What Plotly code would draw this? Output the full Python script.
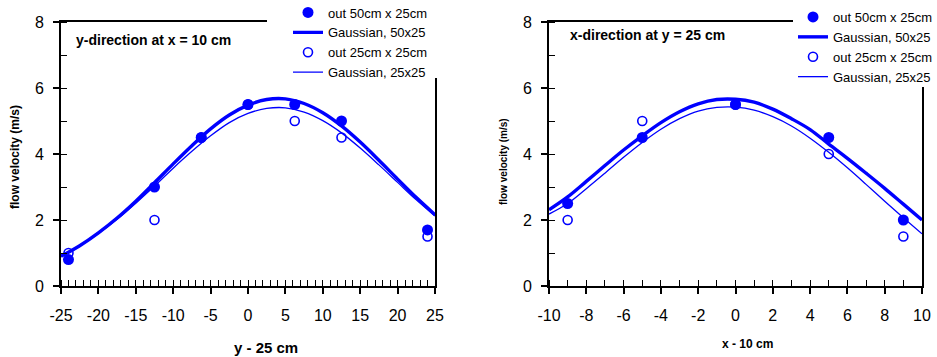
import plotly.graph_objects as go

# ---------------- data ----------------
# left panel: y-direction at x = 10 cm
left_pts_x = [-24, -12.5, -6.25, 0, 6.25, 12.5, 24]
left_out50 = [0.8, 3.0, 4.5, 5.5, 5.5, 5.0, 1.7]
left_out25 = [1.0, 2.0, 4.5, 5.5, 5.0, 4.5, 1.5]

left_curve_x = [-25, -22.5, -20, -17.5, -15, -12.5, -10, -7.5, -5, -2.5, 0,
                2.5, 5, 7.5, 10, 12.5, 15, 17.5, 20, 22.5, 25]
left_gauss50 = [0.90, 1.22, 1.61, 2.06, 2.57, 3.13, 3.70, 4.25, 4.76, 5.18, 5.48,
                5.65, 5.67, 5.53, 5.25, 4.85, 4.36, 3.81, 3.24, 2.68, 2.16]
left_gauss25 = [0.90, 1.21, 1.59, 2.02, 2.51, 3.03, 3.57, 4.08, 4.55, 4.95, 5.23,
                5.38, 5.40, 5.27, 5.01, 4.64, 4.18, 3.67, 3.14, 2.61, 2.12]

# right panel: x-direction at y = 25 cm
right_pts_x = [-9, -5, 0, 5, 9]
right_out50 = [2.5, 4.5, 5.5, 4.5, 2.0]
right_out25 = [2.0, 5.0, 5.5, 4.0, 1.5]

right_curve_x = [-10, -9, -8, -7, -6, -5, -4, -3, -2, -1, 0,
                 1, 2, 3, 4, 5, 6, 7, 8, 9, 10]
right_gauss50 = [2.31, 2.70, 3.17, 3.65, 4.12, 4.55, 4.95, 5.28, 5.52, 5.65, 5.66,
                 5.57, 5.36, 5.07, 4.74, 4.30, 3.87, 3.42, 2.96, 2.48, 2.00]
right_gauss25 = [2.18, 2.50, 2.95, 3.42, 3.90, 4.35, 4.75, 5.07, 5.30, 5.41, 5.42,
                 5.33, 5.13, 4.85, 4.48, 4.05, 3.58, 3.08, 2.57, 2.07, 1.58]

left_xticks = [-25, -20, -15, -10, -5, 0, 5, 10, 15, 20, 25]
left_xlabels = ["-25", "-20", "-15", "-10", "-5", "0", "5", "10", "15", "20", "25"]
right_xticks = [-10, -8, -6, -4, -2, 0, 2, 4, 6, 8, 10]
right_xlabels = ["-10", "-8", "-6", "-4", "-2", "0", "2", "4", "6", "8", "10"]
yticks = [0, 2, 4, 6, 8]
ylabels = ["0", "2", "4", "6", "8"]

names = ["out 50cm x 25cm", "Gaussian, 50x25", "out 25cm x 25cm", "Gaussian, 25x25"]
left_title = "y-direction at x = 10 cm"
right_title = "x-direction at y = 25 cm"
ytitle = "flow velocity (m/s)"
left_xtitle = "y - 25 cm"
right_xtitle = "x - 10 cm"

BLUE = "#0000FF"
FONT = "Arial, Liberation Sans, sans-serif"

fig = go.Figure()


def add_panel(xa, ya, legend, px, out50, out25, cx, g50, g25):
    fig.add_trace(go.Scatter(x=cx, y=g25, mode="lines", name=names[3],
                             line=dict(color=BLUE, width=1.3, shape="spline"),
                             xaxis=xa, yaxis=ya, legend=legend, legendrank=4))
    fig.add_trace(go.Scatter(x=cx, y=g50, mode="lines", name=names[1],
                             line=dict(color=BLUE, width=3.4, shape="spline"),
                             xaxis=xa, yaxis=ya, legend=legend, legendrank=2))
    fig.add_trace(go.Scatter(x=px, y=out25, mode="markers", name=names[2],
                             marker=dict(symbol="circle-open", size=9, color=BLUE,
                                         line=dict(width=1.6, color=BLUE)),
                             xaxis=xa, yaxis=ya, legend=legend, legendrank=3))
    fig.add_trace(go.Scatter(x=px, y=out50, mode="markers", name=names[0],
                             marker=dict(symbol="circle", size=11, color=BLUE),
                             xaxis=xa, yaxis=ya, legend=legend, legendrank=1))


add_panel("x", "y", "legend", left_pts_x, left_out50, left_out25,
          left_curve_x, left_gauss50, left_gauss25)
add_panel("x2", "y2", "legend2", right_pts_x, right_out50, right_out25,
          right_curve_x, right_gauss50, right_gauss25)

W, H = 937, 357
ML, MR, MT, MB = 61, 15, 22, 71
PW = W - ML - MR
PH = H - MT - MB


def px2x(p):
    return (p - ML) / PW


def py2y(p):
    return (H - MB - p) / PH


tickfont = dict(family=FONT, size=16, color="black")

common_x = dict(showline=True, linecolor="black", linewidth=2, mirror=True,
                ticks="outside", ticklen=6, tickwidth=1.5, tickcolor="black",
                showgrid=False, zeroline=False, tickfont=tickfont,
                ticklabelstandoff=8)
common_y = dict(showline=True, linecolor="black", linewidth=2, mirror=True,
                ticks="outside", ticklen=6, tickwidth=1.5, tickcolor="black",
                showgrid=False, zeroline=False, tickfont=tickfont,
                range=[0, 8], tickvals=yticks, ticktext=ylabels,
                minor=dict(dtick=1, tick0=0, ticks="inside", ticklen=6,
                           tickwidth=1.2, tickcolor="black"),
                ticklabelstandoff=6)
over = dict(showline=False, showgrid=False, zeroline=False, showticklabels=False,
            ticks="inside", ticklen=6, tickwidth=1.5, tickcolor="black")

d1 = [0, px2x(435)]
d2 = [px2x(549), 1]

fig.update_layout(
    width=W, height=H,
    margin=dict(l=ML, r=MR, t=MT, b=MB, autoexpand=False),
    paper_bgcolor="white", plot_bgcolor="white",
    font=dict(family=FONT, color="black"),
    xaxis=dict(domain=d1, anchor="y", range=[-25, 25], tickvals=left_xticks,
               ticktext=left_xlabels,
               minor=dict(dtick=1, tick0=0, ticks="inside", ticklen=6,
                          tickwidth=1.2, tickcolor="black"), **common_x),
    yaxis=dict(domain=[0, 1], anchor="x", **common_y),
    xaxis2=dict(domain=d2, anchor="y2", range=[-10, 10], tickvals=right_xticks,
                ticktext=right_xlabels,
                minor=dict(dtick=1, tick0=0, ticks="inside", ticklen=6,
                           tickwidth=1.2, tickcolor="black"), **common_x),
    yaxis2=dict(domain=[0, 1], anchor="x2", **common_y),
    xaxis3=dict(overlaying="x", anchor="y", range=[-25, 25], tickvals=left_xticks, **over),
    yaxis3=dict(overlaying="y", anchor="x", range=[0, 8], tickvals=yticks, **over),
    xaxis4=dict(overlaying="x2", anchor="y2", range=[-10, 10], tickvals=right_xticks, **over),
    yaxis4=dict(overlaying="y2", anchor="x2", range=[0, 8], tickvals=yticks, **over),
    legend=dict(x=px2x(288), xanchor="left", y=py2y(-2.5), yanchor="top",
                bgcolor="rgba(0,0,0,0)", borderwidth=0, traceorder="normal",
                font=dict(family=FONT, size=13, color="black"),
                tracegroupgap=0),
    legend2=dict(x=px2x(793), xanchor="left", y=py2y(2), yanchor="top",
                 bgcolor="rgba(0,0,0,0)", borderwidth=0, traceorder="normal",
                 font=dict(family=FONT, size=13, color="black"),
                 tracegroupgap=0),
    showlegend=True,
)

# white legend backgrounds that cover the frame corner, as in the original
fig.add_shape(type="rect", xref="paper", yref="paper", layer="above",
              x0=px2x(267), x1=px2x(470), y0=py2y(78), y1=py2y(0),
              fillcolor="white", line=dict(width=0))
fig.add_shape(type="rect", xref="paper", yref="paper", layer="above",
              x0=px2x(793), x1=px2x(937), y0=py2y(87), y1=py2y(0),
              fillcolor="white", line=dict(width=0))

bold = dict(family=FONT, color="black")
fig.add_annotation(text="<b>%s</b>" % left_title, xref="paper", yref="paper",
                   x=px2x(74), y=py2y(40), xanchor="left", yanchor="middle",
                   showarrow=False, font=dict(size=14, **bold))
fig.add_annotation(text="<b>%s</b>" % right_title, xref="paper", yref="paper",
                   x=px2x(568), y=py2y(35), xanchor="left", yanchor="middle",
                   showarrow=False, font=dict(size=14, **bold))
fig.add_annotation(text="<b>%s</b>" % ytitle, xref="paper", yref="paper",
                   x=px2x(15), y=py2y(157), xanchor="center", yanchor="middle",
                   textangle=-90, showarrow=False, font=dict(size=12, **bold))
fig.add_annotation(text="<b>%s</b>" % ytitle, xref="paper", yref="paper",
                   x=px2x(503), y=py2y(162), xanchor="center", yanchor="middle",
                   textangle=-90, showarrow=False, font=dict(size=10, **bold))
fig.add_annotation(text="<b>%s</b>" % left_xtitle, xref="paper", yref="paper",
                   x=px2x(266), y=py2y(347), xanchor="center", yanchor="middle",
                   showarrow=False, font=dict(size=15, **bold))
fig.add_annotation(text="<b>%s</b>" % right_xtitle, xref="paper", yref="paper",
                   x=px2x(747), y=py2y(344), xanchor="center", yanchor="middle",
                   showarrow=False, font=dict(size=12, **bold))

fig.write_html("out.html")
